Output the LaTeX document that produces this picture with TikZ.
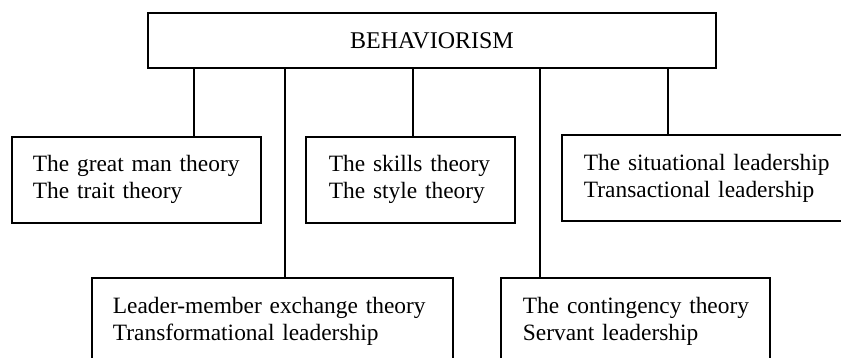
\documentclass[tikz,border=0pt]{standalone}
\usepackage{fontspec}
\setmainfont{Liberation Serif}
\begin{document}
\begin{tikzpicture}[x=1pt,y=-1pt,
  topbox/.style={draw,line width=1.8pt,inner sep=0pt,minimum width=568pt,minimum height=55pt,font=\fontsize{24}{27}\selectfont},
  subbox/.style={draw,line width=1.8pt,anchor=north west,align=left,inner xsep=22pt,inner ysep=0pt,minimum height=86pt,font=\fontsize{23.4}{27}\selectfont},
  link/.style={line width=1.3pt}]
\useasboundingbox (0,0) rectangle (841,358);
\clip (0,0) rectangle (841,358);
\fill[white] (0,0) rectangle (841,358);
\node[topbox] (top) at (432,40.5) {BEHAVIORISM};
\node[subbox,text width=207pt,inner xsep=21pt] (b1) at (11,136) {\mbox{The great man theory}\\\mbox{The trait theory}};
\node[subbox,text width=163pt,inner xsep=23pt] (b2) at (305,136) {\mbox{The skills theory}\\\mbox{The style theory}};
\node[subbox,text width=245pt] (b3) at (561,134) {\mbox{The situational leadership}\\\mbox{Transactional leadership}};
\node[subbox,text width=319pt,inner xsep=21pt] (b4) at (91,277) {\mbox{Leader-member exchange theory}\\\mbox{Transformational leadership}};
\node[subbox,text width=225pt] (b5) at (500,277) {\mbox{The contingency theory}\\\mbox{Servant leadership}};
\coordinate (c1) at (194,0);
\coordinate (c4) at (285,0);
\coordinate (c2) at (413,0);
\coordinate (c5) at (540,0);
\coordinate (c3) at (668,0);
\draw[link] (top.south -| c1) -- (b1.north -| c1);
\draw[link] (top.south -| c4) -- (b4.north -| c4);
\draw[link] (top.south -| c2) -- (b2.north -| c2);
\draw[link] (top.south -| c5) -- (b5.north -| c5);
\draw[link] (top.south -| c3) -- (b3.north -| c3);
\end{tikzpicture}
\end{document}
